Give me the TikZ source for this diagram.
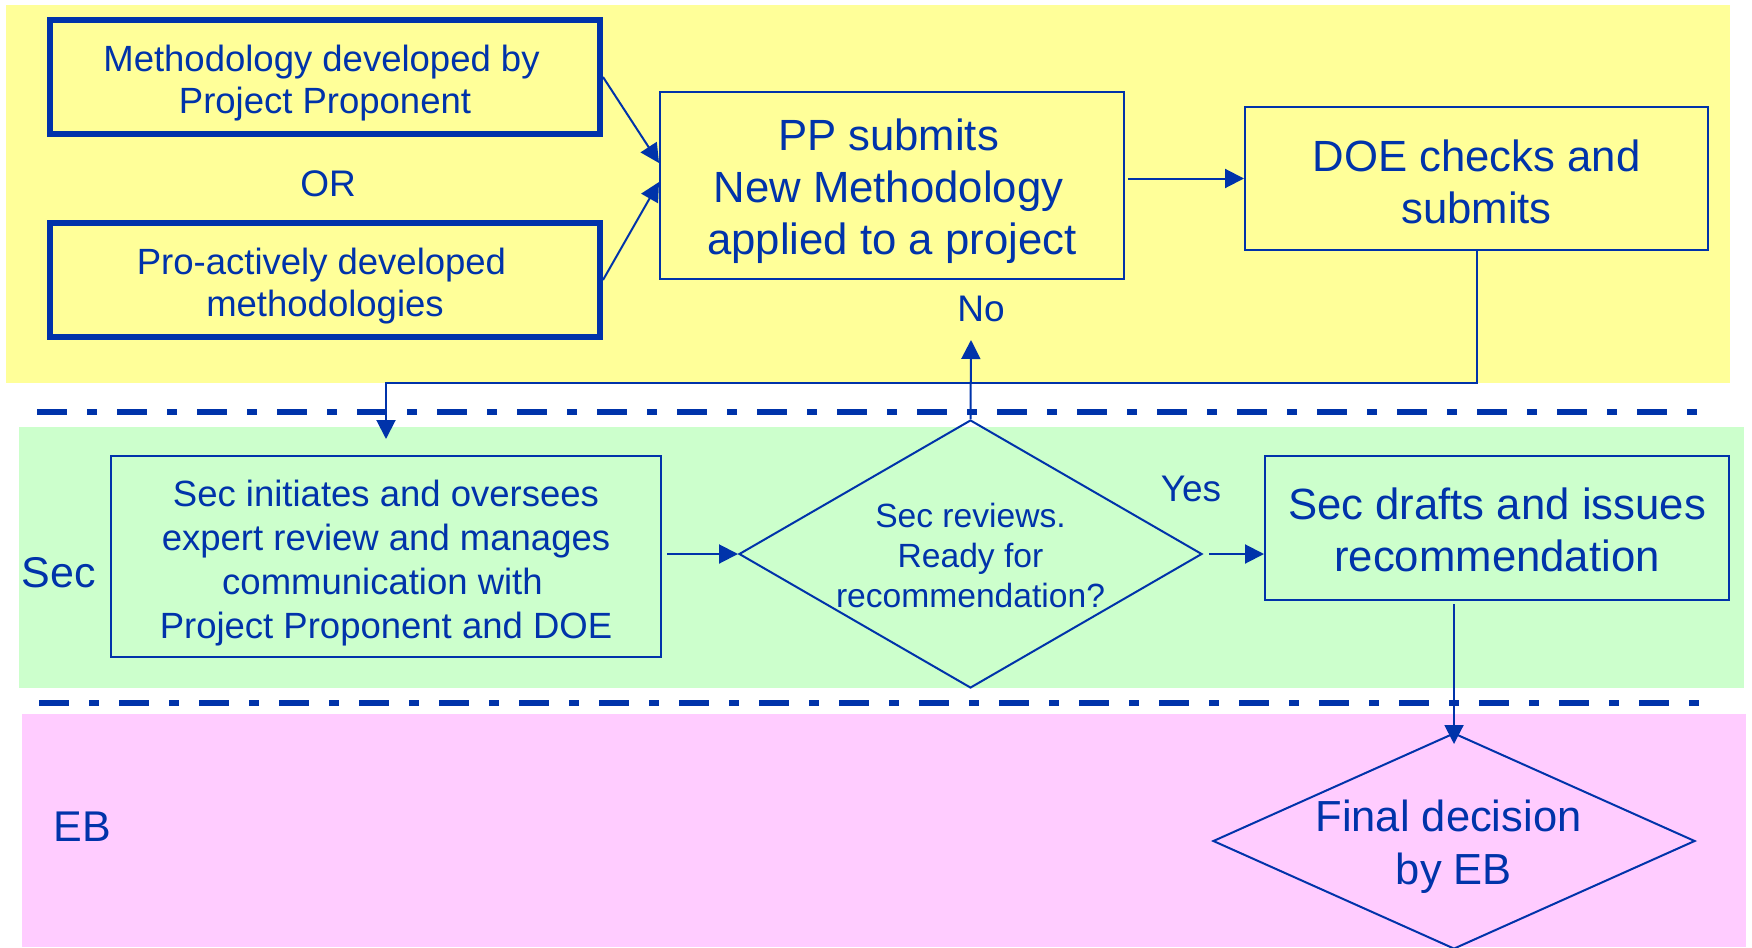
\documentclass[tikz,border=0pt]{standalone}
\usepackage{fontspec}
\setmainfont{Liberation Sans}
\usetikzlibrary{arrows.meta,shapes.geometric}
\definecolor{fcblue}{RGB}{0,51,170}
\definecolor{bandyellow}{RGB}{255,255,153}
\definecolor{bandgreen}{RGB}{204,255,204}
\definecolor{bandpink}{RGB}{255,204,255}
\newcommand{\lastline}[1]{\raisebox{0pt}[\height][0pt]{#1}}
\newcommand{\upstrut}[1]{\rule{0pt}{\dimexpr0.73em+#1\relax}}
\newcommand{\tailgap}[1]{\rule{#1}{0pt}}
\begin{document}
\begin{tikzpicture}[x=1pt,y=-1pt,
  every node/.style={text=fcblue},
  conn/.style={draw=fcblue,line width=2pt},
  arr/.style={conn,-{Triangle[length=19pt,width=19pt]}},
  thinbox/.style={draw=fcblue,line width=2pt,rectangle,inner sep=0pt,align=center},
  thickbox/.style={draw=fcblue,line width=6pt,rectangle,inner sep=0pt,align=center,
    minimum width=550pt,minimum height=114pt,font=\fontsize{36.5}{42.5}\selectfont},
  bigtext/.style={font=\fontsize{43.7}{52}\selectfont},
  lane/.style={draw=fcblue,line width=6pt,dash pattern=on 30pt off 20pt on 10pt off 20pt},
  lbl/.style={inner sep=0pt,font=\fontsize{37}{44}\selectfont},
  lanelbl/.style={inner sep=0pt,font=\fontsize{43}{52}\selectfont},
  dia/.style={diamond,draw=fcblue,line width=2pt,inner sep=0pt,align=center}
]
\useasboundingbox (0,0) rectangle (1752,947);
% swimlane bands
\fill[bandyellow] (6,5) rectangle (1730,383);
\fill[bandgreen] (19,427) rectangle (1744,688);
\fill[bandpink] (22,714) rectangle (1746,947);
\draw[lane] (37,412) -- (1700,412);
\draw[lane] (39,703) -- (1700,703);
% nodes
\node[thickbox] (mA) at (325,77)
  {\upstrut{4.4pt}Methodology developed by\tailgap{7pt}\\\lastline{Project Proponent}};
\node[thickbox] (mB) at (325,280)
  {\upstrut{4.4pt}Pro-actively developed\tailgap{7pt}\\\lastline{methodologies}};
\node[lbl] (or) at (328,183.5) {OR};
\node[thinbox,bigtext,minimum width=464pt,minimum height=187pt] (pp) at (892,185.5)
  {\upstrut{3pt}PP submits\tailgap{7pt}\\New Methodology\tailgap{7pt}\\\lastline{applied to a project}};
\node[thinbox,bigtext,minimum width=463pt,minimum height=143pt] (doe) at (1476.5,178.5)
  {\upstrut{6.7pt}DOE checks and\\\lastline{submits}};
\node[thinbox,minimum width=550pt,minimum height=201pt,font=\fontsize{36.5}{44}\selectfont] (sec) at (386,556.5)
  {\upstrut{4.4pt}Sec initiates and oversees\\expert review and manages\\communication with\tailgap{7pt}\\\lastline{Project Proponent and DOE}};
\node[dia,minimum width=463pt,minimum height=268pt,shape aspect=1.73,font=\fontsize{33.6}{40}\selectfont] (rev) at (970.5,554)
  {\upstrut{2.2pt}Sec reviews.\\Ready for\\\lastline{recommendation?}};
\node[thinbox,bigtext,minimum width=464pt,minimum height=144pt] (rec) at (1497,528)
  {\upstrut{2.2pt}Sec drafts and issues\\\lastline{recommendation}};
\node[dia,minimum width=482pt,minimum height=216pt,shape aspect=2.23,font=\fontsize{43.5}{53}\selectfont] (eb) at (1454,841)
  {\upstrut{2.2pt}Final decision\tailgap{11pt}\\\lastline{by EB}};
\node[lbl] (no) at (981,309) {No};
\node[lbl] (yes) at (1191,489) {Yes};
\node[lanelbl] (seclbl) at (59,573) {Sec};
\node[lanelbl] (eblbl) at (82,827) {EB};
% connectors
\coordinate (bend) at (386,383);
\coordinate (notip) at (971,340);
\draw[arr] (mA.east) -- ([yshift=22.5pt]pp.west);
\draw[arr] (mB.east) -- ([yshift=3.5pt]pp.west);
\draw[arr,shorten <=3pt] (pp.east |- doe.west) -- (doe.west);
\draw[arr,shorten >=16pt] (doe.south) |- (bend) -- (sec.north);
\draw[arr,shorten <=5pt] (sec.east |- rev.west) -- (rev.west);
\draw[arr,shorten <=6pt] (rev.east) -- (rec.west |- rev.east);
\draw[arr] (rev.north) -- (notip);
\draw[arr,shorten <=3pt,shorten >=-12pt] (eb.north |- rec.south) -- (eb.north);
\end{tikzpicture}
\end{document}
